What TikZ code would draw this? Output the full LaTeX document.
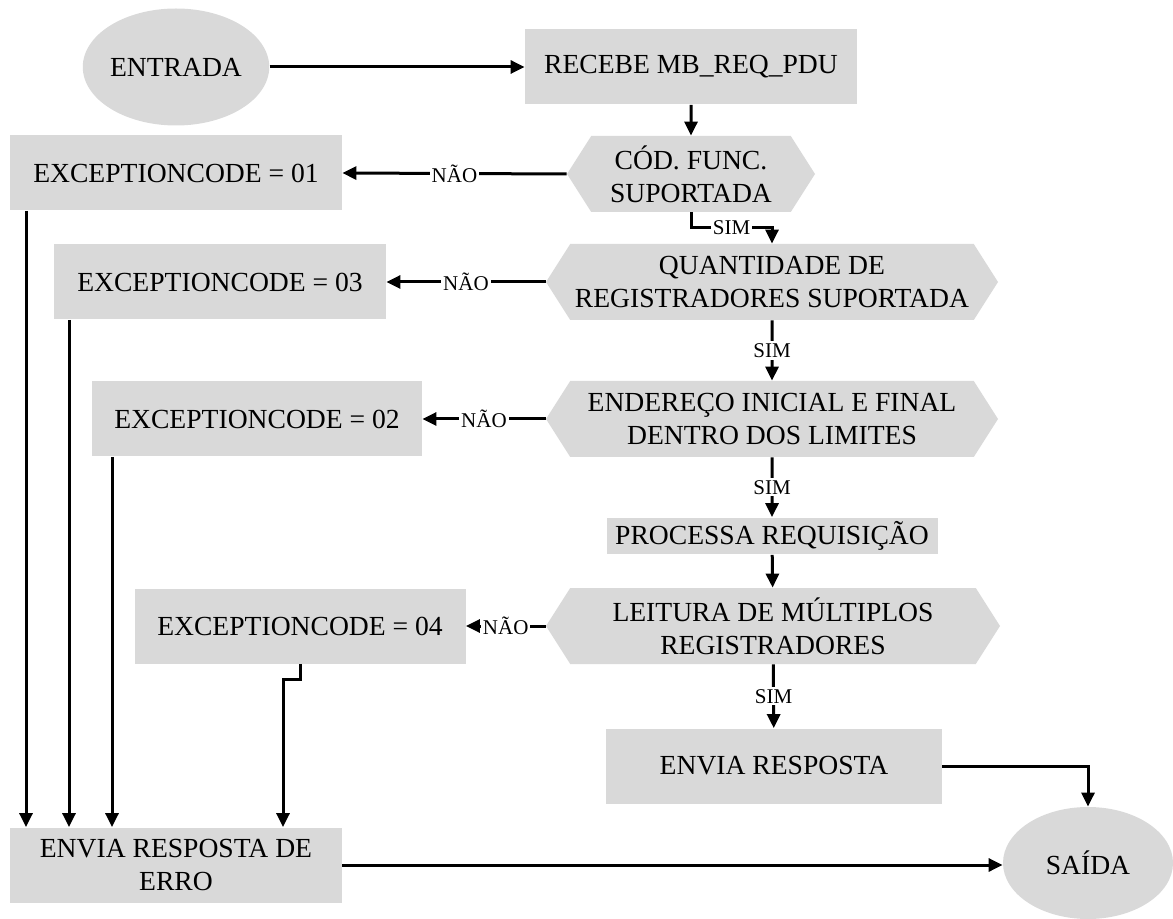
\documentclass[tikz,border=0pt]{standalone}
\usepackage{fontspec}
\setmainfont{Liberation Serif}
\usetikzlibrary{arrows.meta,shapes.geometric,shapes.symbols}
\definecolor{boxgray}{HTML}{D9D9D9}

\begin{document}
\begin{tikzpicture}[x=0.5pt,y=-0.5pt]
		\tikzset{terminal/.style = {ellipse, fill=boxgray, inner sep=0pt, font=\fontsize{13.8}{16.5}\selectfont}}
		\tikzset{process/.style = {rectangle, fill=boxgray, align=center, inner sep=2pt, minimum width=166pt, minimum height=37.5pt, font=\fontsize{13.8}{16.5}\selectfont}}
		\tikzset{decision/.style = {signal, signal to=west and east, signal pointer angle=115, fill=boxgray, align=center, inner xsep=2pt, minimum height=38pt, font=\fontsize{13.8}{16.5}\selectfont}}
		\tikzset{edge/.style = {line width=1.5pt, -{Triangle[length=7pt,width=6.5pt]}}}
		\tikzset{answer/.style = {fill=white, inner sep=1pt, font=\fontsize{10.5}{12}\selectfont}}
		
		\useasboundingbox (0,0) rectangle (1173,919);
		
		\node[terminal, minimum width=87.5pt, minimum height=58.5pt] (entrada) at ( 176,  67) {ENTRADA};
		\node[process] (recebe) at ( 691,  67) {RECEBE MB\_REQ\_PDU};
		\node[decision, minimum width=124pt] (codfunc) at ( 691, 174) {CÓD. FUNC.\\SUPORTADA};
		\node[decision, minimum width=226pt] (quant)   at ( 772, 282) {QUANTIDADE DE\\REGISTRADORES SUPORTADA};
		\node[decision, minimum width=226pt] (ender)   at ( 772, 419) {ENDEREÇO INICIAL E FINAL\\DENTRO DOS LIMITES};
		\node[process, minimum width=165.5pt, minimum height=17.5pt] (processa) at ( 772, 536) {PROCESSA REQUISIÇÃO};
		\node[decision, minimum width=227pt] (leitura) at ( 773, 626) {LEITURA DE MÚLTIPLOS\\REGISTRADORES};
		\node[process, minimum width=168pt] (envia) at ( 774, 766) {ENVIA RESPOSTA};
		\node[terminal, minimum width=85pt, minimum height=56pt] (saida) at (1088, 863) {SAÍDA};
		
		\node[process] (exc01) at ( 176, 173) {EXCEPTIONCODE = 01};
		\node[process] (exc03) at ( 220, 282) {EXCEPTIONCODE = 03};
		\node[process, minimum width=165pt] (exc02) at ( 257, 419) {EXCEPTIONCODE = 02};
		\node[process, minimum width=165.5pt] (exc04) at ( 300, 626) {EXCEPTIONCODE = 04};
		\node[process] (erro) at ( 176, 865) {ENVIA RESPOSTA DE\\ERRO};
		
		\draw[edge] (entrada) to (recebe);
		\draw[edge] (recebe) to (codfunc);
		\draw[edge] (codfunc.south) -- ++(0,15) -| node[answer, pos=0.25] {SIM} (quant.north);
		\draw[edge] (quant) to node[answer] {SIM} (ender);
		\draw[edge] (ender) to node[answer] {SIM} (processa);
		\draw[edge] (processa) to (leitura);
		\draw[edge] (leitura) to node[answer] {SIM} (envia);
		\draw[edge] (envia.east) -| (saida.north);
		
		\draw[edge] (codfunc.west) to node[answer] {NÃO} (exc01.east);
		\draw[edge] (quant.west)   to node[answer] {NÃO} (exc03.east);
		\draw[edge] (ender.west)   to node[answer] {NÃO} (exc02.east);
		\draw[edge] (leitura.west) to node[answer] {NÃO} (exc04.east);
		
		\draw[edge] (26,0 |- exc01.south) -- (26,0 |- erro.north);
		\draw[edge] (69,0 |- exc03.south) -- (69,0 |- erro.north);
		\draw[edge] (112,0 |- exc02.south) -- (112,0 |- erro.north);
		\draw[edge] (exc04.south) -- ++(0,16) -| (283,0 |- erro.north);
		\draw[edge] (erro.east) to (erro.east -| saida.west);
\end{tikzpicture}
\end{document}
